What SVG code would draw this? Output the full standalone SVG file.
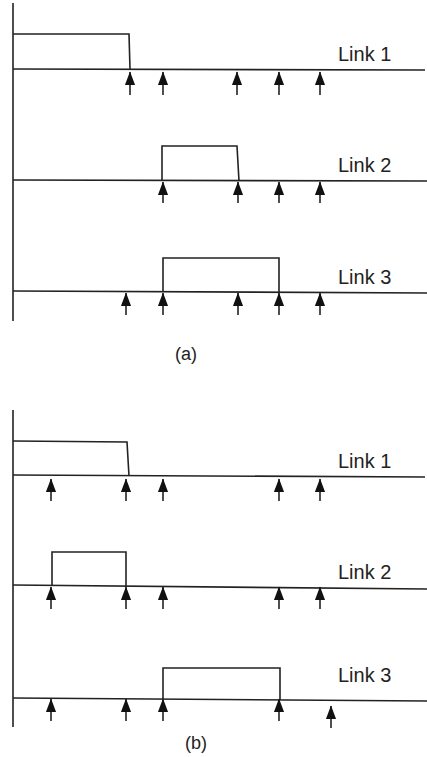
<svg xmlns="http://www.w3.org/2000/svg" width="427" height="757" viewBox="0 0 427 757">
<style>
.ln{stroke:#222;stroke-width:1.6;fill:none}
.ar{stroke:#222;stroke-width:1.6;fill:none;marker-end:url(#ah)}
.lb{font-family:"Liberation Sans",Arial,sans-serif;font-size:20px;fill:#222}
.cap{font-family:"Liberation Sans",Arial,sans-serif;font-size:18px;fill:#222;text-anchor:middle}
</style>
<defs>
<marker id="ah" markerUnits="userSpaceOnUse" markerWidth="14" markerHeight="14" viewBox="0 0 12 9" refX="11.5" refY="4.5" orient="auto">
<path d="M0,0 L12,4.5 L0,9 z" fill="#111"/>
</marker>
</defs>
<rect width="427" height="757" fill="#fff"/>
<g id="panel-a">
<line class="ln" x1="13" y1="3" x2="13" y2="321"/>
<g id="a-link1">
<line class="ln" x1="13" y1="69" x2="425" y2="70"/>
<polyline class="ln" points="13,34 129,34 130,69"/>
<text class="lb" x="338" y="61">Link 1</text>
</g>
<g id="a-link2">
<line class="ln" x1="13" y1="180" x2="427" y2="181"/>
<polyline class="ln" points="162,180 162,146 237,146 239,181"/>
<text class="lb" x="338" y="172">Link 2</text>
</g>
<g id="a-link3">
<line class="ln" x1="13" y1="291" x2="427" y2="293"/>
<polyline class="ln" points="163,292 163,258 279,258 279,293"/>
<text class="lb" x="338" y="284">Link 3</text>
</g>
<text class="cap" x="186" y="360">(a)</text>
</g>
<g id="panel-b">
<line class="ln" x1="13" y1="410" x2="13" y2="727"/>
<g id="b-link1">
<line class="ln" x1="13" y1="475" x2="425" y2="477"/>
<polyline class="ln" points="13,441 127,442 129,476"/>
<text class="lb" x="338" y="468">Link 1</text>
</g>
<g id="b-link2">
<line class="ln" x1="13" y1="585" x2="427" y2="589"/>
<polyline class="ln" points="52,586 52,552 126,552 126,587"/>
<text class="lb" x="338" y="579">Link 2</text>
</g>
<g id="b-link3">
<line class="ln" x1="13" y1="698" x2="427" y2="701"/>
<polyline class="ln" points="163,699 163,668 280,668 280,700"/>
<text class="lb" x="338" y="682">Link 3</text>
</g>
<text class="cap" x="196" y="749">(b)</text>
</g>
<g id="connectors">
<line class="ar" x1="130" y1="95" x2="130" y2="72"/>
<line class="ar" x1="163" y1="95" x2="163" y2="72"/>
<line class="ar" x1="237" y1="95" x2="237" y2="72"/>
<line class="ar" x1="279" y1="95" x2="279" y2="72"/>
<line class="ar" x1="320" y1="95" x2="320" y2="72"/>

<line class="ar" x1="163" y1="203" x2="163" y2="182"/>
<line class="ar" x1="238" y1="203" x2="238" y2="182"/>
<line class="ar" x1="279" y1="203" x2="279" y2="182"/>
<line class="ar" x1="320" y1="203" x2="320" y2="182"/>

<line class="ar" x1="126" y1="315" x2="126" y2="293"/>
<line class="ar" x1="163" y1="315" x2="163" y2="293"/>
<line class="ar" x1="238" y1="315" x2="238" y2="293"/>
<line class="ar" x1="279" y1="315" x2="279" y2="293"/>
<line class="ar" x1="320" y1="315" x2="320" y2="293"/>

<line class="ar" x1="51" y1="501" x2="51" y2="479"/>
<line class="ar" x1="126" y1="501" x2="126" y2="479"/>
<line class="ar" x1="163" y1="501" x2="163" y2="479"/>
<line class="ar" x1="279" y1="501" x2="279" y2="479"/>
<line class="ar" x1="320" y1="501" x2="320" y2="479"/>

<line class="ar" x1="51" y1="609" x2="51" y2="587"/>
<line class="ar" x1="126" y1="609" x2="126" y2="587"/>
<line class="ar" x1="163" y1="609" x2="163" y2="587"/>
<line class="ar" x1="279" y1="609" x2="279" y2="587"/>
<line class="ar" x1="320" y1="609" x2="320" y2="587"/>

<line class="ar" x1="51" y1="721" x2="51" y2="699"/>
<line class="ar" x1="126" y1="721" x2="126" y2="699"/>
<line class="ar" x1="163" y1="721" x2="163" y2="699"/>
<line class="ar" x1="279" y1="721" x2="279" y2="699"/>
<line class="ar" x1="331" y1="728" x2="331" y2="706"/>
</g>
</svg>
